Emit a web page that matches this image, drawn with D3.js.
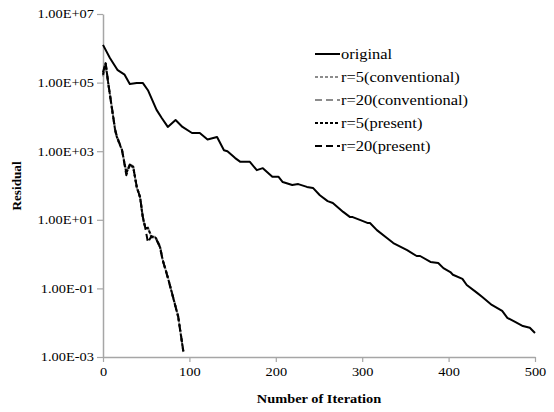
<!DOCTYPE html>
<html><head><meta charset="utf-8">
<script src="https://cdn.jsdelivr.net/npm/d3@7"></script>
<style>body{margin:0;background:#fff}svg{display:block}</style>
</head><body><svg id="c" width="554" height="412"></svg>
<script>
const xTicks = [0,100,200,300,400,500];
const yTicks = [1e7,1e5,1e3,1e1,1e-1,1e-3];
const yTickLabels = ["1.00E+07","1.00E+05","1.00E+03","1.00E+01","1.00E-01","1.00E-03"];
const seriesNames = ["original","r=5(conventional)","r=20(conventional)","r=5(present)","r=20(present)"];

const originalIter = [0,8,17,25,31,39,46,52,62,68,75,84,92,103,112,121,132,140,144,153,159,170,178,185,196,203,208,219,226,236,243,251,260,266,278,286,289,298,306,309,317,329,336,352,363,367,379,388,394,402,405,416,421,433,439,450,462,468,477,486,494,500];
const originalVal = [1.26e6,5.2e5,2.3e5,1.7e5,9.1e4,9.8e4,9.8e4,6.0e4,1.6e4,9.3e3,5.1e3,8.1e3,5.1e3,3.4e3,3.4e3,2.2e3,2.6e3,1.07e3,1.0e3,6.3e2,4.9e2,4.9e2,2.8e2,3.2e2,1.8e2,1.8e2,1.26e2,1.03e2,1.1e2,91,85,52,35,31,17,12,12,9.8,8.1,8.1,5.0,2.9,2.1,1.3,0.88,0.88,0.59,0.55,0.39,0.30,0.25,0.19,0.126,0.074,0.056,0.033,0.022,0.0138,0.0105,0.0080,0.0071,0.0050];

const convIter5 = [0,3,6,14,16,22,27,31,35,39,43,46,49,52,56,61,66,69,75,81,87,93];
const convVal5  = [1.5e5,3.2e5,1.0e5,4.4e3,2.8e3,1.1e3,2.4e2,3.8e2,3.3e2,95,46,13,6.0,5.5,3.4,3.1,1.7,0.70,0.22,0.058,0.016,0.0015];
const convIter20 = [0,3,6,14,16,22,27,31,35,39,43,46,49,52,56,61,66,69,75,81,87,93];
const convVal20  = [1.6e5,3.5e5,9.6e4,4.0e3,2.5e3,1.05e3,2.5e2,4.2e2,3.6e2,88,43,11.5,5.6,6.0,3.0,3.2,1.5,0.66,0.20,0.054,0.0145,0.0014];
const presIter5 = [0,3,6,14,16,22,27,31,35,39,43,46,49,52,56,61,66,69,75,81,87,93];
const presVal5  = [1.7e5,3.7e5,9.8e4,4.2e3,2.6e3,1.07e3,2.3e2,4.0e2,3.5e2,91,44,12,5.8,5.8,3.2,3.0,1.6,0.68,0.21,0.056,0.015,0.0014];
const presIter20 = [0,3,6,14,16,22,27,31,35,39,43,46,49,52,56,61,66,69,75,81,87,93];
const presVal20  = [2.0e5,3.9e5,1.0e5,4.3e3,2.7e3,1.1e3,2.0e2,4.1e2,3.4e2,93,45,12.5,5.7,2.2,3.3,2.9,1.65,0.69,0.21,0.057,0.0152,0.00145];

const FONT = "Liberation Serif";
const SX = 1.2; // horizontal text stretch seen in the reference
const svg = d3.select("#c");
const x = d3.scaleLinear().domain([0,500]).range([103,535]);
const y = d3.scaleLog().domain([1e-3,1e7]).range([357,14]);
const axisColor = "#a6a6a6";

// axes
const gy = svg.append("g").attr("transform","translate(103,0)")
  .call(d3.axisLeft(y).tickValues(yTicks).tickFormat((d,i)=>yTickLabels[i]).tickSize(6).tickSizeOuter(0));
const gx = svg.append("g").attr("transform","translate(0,357)")
  .call(d3.axisBottom(x).tickValues(xTicks).tickFormat(d3.format("d")).tickSize(5).tickSizeOuter(0));
[gx,gy].forEach(g=>{
  g.attr("font-family",FONT).attr("font-size",12);
  g.selectAll(".domain").attr("stroke",axisColor).attr("stroke-width",1.5);
  g.selectAll(".tick line").attr("stroke",axisColor).attr("stroke-width",1.2);
  g.selectAll(".tick text").attr("fill","#000");
});
gy.selectAll(".tick text").attr("x",0).attr("transform",`translate(-9,0) scale(${SX},1)`);
gx.selectAll(".tick text").attr("y",10).attr("transform",`scale(${SX},1)`);

svg.append("text").attr("text-anchor","middle").attr("font-family",FONT)
  .attr("transform",`translate(319,403) scale(${SX},1)`)
  .attr("font-size",12).attr("font-weight","bold").text("Number of Iteration");
svg.append("text").attr("transform","translate(21,186) rotate(-90)").attr("text-anchor","middle").attr("font-family",FONT)
  .attr("font-size",13.2).attr("font-weight","bold").text("Residual");

const line = d3.line().x(d=>x(d[0])).y(d=>y(d[1]));
const zip = (a,b)=>a.map((v,i)=>[v,b[i]]);
const series = [
  {data: zip(originalIter, originalVal), color:"#000", dash:null},
  {data: zip(convIter5, convVal5), color:"#8c8c8c", dash:"3,2"},
  {data: zip(convIter20, convVal20), color:"#8c8c8c", dash:"7,4"},
  {data: zip(presIter5, presVal5), color:"#000", dash:"3,2"},
  {data: zip(presIter20, presVal20), color:"#000", dash:"7,4"}
];
series.forEach(s=>{
  svg.append("path").attr("d",line(s.data)).attr("fill","none")
    .attr("stroke",s.color).attr("stroke-width",2).attr("stroke-dasharray",s.dash)
    .attr("stroke-linejoin","round");
});

// legend
const lg = svg.append("g").attr("font-family",FONT);
series.forEach((s,i)=>{
  const yy = 54 + i*23;
  lg.append("line").attr("x1",315).attr("x2",340).attr("y1",yy).attr("y2",yy)
    .attr("stroke",s.color).attr("stroke-width",2).attr("stroke-dasharray",s.dash);
  lg.append("text").attr("transform",`translate(341,${yy+4.5}) scale(${SX},1)`)
    .attr("font-size",13.7).text(seriesNames[i]);
});
</script></body></html>
